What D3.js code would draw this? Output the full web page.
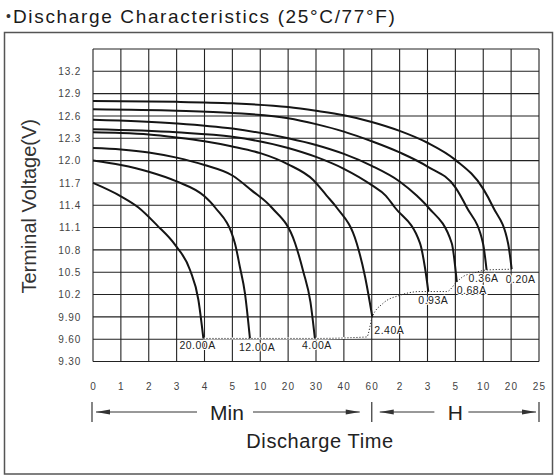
<!DOCTYPE html>
<html>
<head>
<meta charset="utf-8">
<script src="https://cdn.jsdelivr.net/npm/d3@7"></script>
<style>
  body { margin: 0; background: #fff; }
  svg { display: block; font-family: "Liberation Sans", Arial, sans-serif; }
</style>
</head>
<body>
<div id="chart"></div>
<script>
// Discharge characteristics chart (25C / 77F)

// x axis : discharge time in minutes, ticks sit on an evenly spaced grid
var timeTicks = [0, 1, 2, 3, 4, 5, 10, 20, 30, 40, 60, 120, 180, 300, 600, 1200, 1500];
var timeTickLabels = ["0", "1", "2", "3", "4", "5", "10", "20", "30", "40", "60", "2", "3", "5", "10", "20", "25"];

// y axis : terminal voltage
var voltTicks = [13.5, 13.2, 12.9, 12.6, 12.3, 12.0, 11.7, 11.4, 11.1, 10.8, 10.5, 10.2, 9.9, 9.6, 9.3];

// discharge curves (time in minutes, voltage)
var t_20A = [0, 1, 1.63, 2.3, 2.94, 3.48, 3.78, 3.96];
var v_20A = [11.70, 11.52, 11.37, 11.13, 10.87, 10.53, 10.13, 9.61];

var t_12A = [0, 1, 2, 3, 4, 4.38, 5.45, 6.35, 7.25, 8.15];
var v_12A = [12.00, 11.94, 11.85, 11.72, 11.52, 11.37, 10.89, 10.57, 10.22, 9.61];

var t_4A = [0, 1, 2, 3, 4, 5, 8.45, 14.1, 22.5, 25.5, 28, 29.6];
var v_4A = [12.17, 12.15, 12.11, 12.04, 11.94, 11.80, 11.60, 11.37, 10.89, 10.50, 10.10, 9.61];

var t_2_4A = [0, 1, 2, 3, 4, 5, 10, 20, 29, 33.8, 37.4, 49.2, 55.2, 61.2];
var v_2_4A = [12.38, 12.37, 12.35, 12.31, 12.26, 12.19, 12.10, 11.95, 11.74, 11.53, 11.37, 10.89, 10.44, 9.90];

var t_0_93A = [0, 3, 5, 20, 30, 40, 60, 90, 109.8, 163.8, 174.6, 183.6];
var v_0_93A = [12.42, 12.38, 12.32, 12.17, 12.05, 11.89, 11.67, 11.53, 11.37, 10.89, 10.56, 10.24];

var t_0_68A = [0, 3, 5, 20, 30, 40, 60, 120, 156.6, 183.6, 284.4, 315];
var v_0_68A = [12.55, 12.50, 12.43, 12.30, 12.21, 12.09, 11.93, 11.72, 11.53, 11.37, 10.89, 10.37];

var t_0_36A = [0, 3, 5, 20, 30, 40, 60, 120, 180, 300, 423, 597, 672];
var v_0_36A = [12.69, 12.67, 12.64, 12.57, 12.49, 12.39, 12.26, 12.11, 11.92, 11.64, 11.37, 10.89, 10.53];

var t_0_20A = [0, 3, 5, 20, 30, 40, 60, 120, 180, 300, 600, 816, 1134, 1206];
var v_0_20A = [12.80, 12.79, 12.77, 12.72, 12.67, 12.61, 12.52, 12.40, 12.24, 12.01, 11.62, 11.37, 10.89, 10.54];

// final discharge voltage (dotted line through the curve ends)
var t_end = [3.96, 8.15, 29.6, 56.4, 61.2, 84, 120.6, 163.8, 183.6, 262.8, 315, 381, 500, 672, 1206];
var v_end = [9.61, 9.61, 9.61, 9.63, 9.90, 10.08, 10.19, 10.24, 10.24, 10.24, 10.37, 10.44, 10.49, 10.53, 10.54];

var currents = ["20.00A", "12.00A", "4.00A", "2.40A", "0.93A", "0.68A", "0.36A", "0.20A"];
var curveTimes = [t_20A, t_12A, t_4A, t_2_4A, t_0_93A, t_0_68A, t_0_36A, t_0_20A];
var curveVolts = [v_20A, v_12A, v_4A, v_2_4A, v_0_93A, v_0_68A, v_0_36A, v_0_20A];

// label offsets from the end of each curve
var labelDx = [-24, -11, -13, 2, -10, 0, -18, -6];
var labelDy = [11, 12.5, 11, 17, 12, 12, 12, 14];

var width = 558;
var height = 476;

var grid = { left: 93, right: 539, top: 49, bottom: 361.5 };
var colW = (grid.right - grid.left) / (timeTicks.length - 1);

var svg = d3.select("#chart")
  .append("svg")
  .attr("width", width)
  .attr("height", height);

// piecewise scale: each tick gets its own grid column
var x = d3.scaleLinear()
  .domain(timeTicks)
  .range(timeTicks.map(function(d, i) { return grid.left + i * colW; }));

var y = d3.scaleLinear()
  .domain([9.3, 13.5])
  .range([grid.bottom, grid.top]);

// outer frame
svg.append("rect")
  .attr("x", 4.5)
  .attr("y", 32.5)
  .attr("width", 548)
  .attr("height", 441.5)
  .attr("fill", "none")
  .attr("stroke", "#555")
  .attr("stroke-width", 1.5);

// title
svg.append("text")
  .attr("x", 6)
  .attr("y", 21)
  .attr("font-size", 14)
  .attr("fill", "#333")
  .text("•");

svg.append("text")
  .attr("x", 13)
  .attr("y", 22.7)
  .attr("font-size", 19)
  .attr("letter-spacing", 1.65)
  .attr("fill", "#1a1a1a")
  .text("Discharge Characteristics (25°C/77°F)");

// grid
svg.append("g")
  .selectAll("line")
  .data(timeTicks)
  .enter()
  .append("line")
  .attr("x1", function(d) { return x(d); })
  .attr("x2", function(d) { return x(d); })
  .attr("y1", grid.top)
  .attr("y2", grid.bottom)
  .attr("stroke", "#222")
  .attr("stroke-width", 1.1);

svg.append("g")
  .selectAll("line")
  .data(voltTicks)
  .enter()
  .append("line")
  .attr("x1", grid.left)
  .attr("x2", grid.right)
  .attr("y1", function(d) { return y(d); })
  .attr("y2", function(d) { return y(d); })
  .attr("stroke", "#222")
  .attr("stroke-width", 1.1);

// y axis labels
var yAxis = d3.axisLeft(y)
  .tickValues(voltTicks.slice(1))
  .tickSize(0)
  .tickPadding(12)
  .tickFormat(function(d) { return d >= 10 ? d.toFixed(1) : d.toFixed(2); });

svg.append("g")
  .attr("transform", "translate(" + grid.left + ",0)")
  .call(yAxis)
  .call(function(g) { g.select(".domain").remove(); })
  .selectAll("text")
  .attr("font-family", "Liberation Sans, Arial, sans-serif")
  .attr("font-size", 10)
  .attr("letter-spacing", 0.8)
  .attr("fill", "#444");

// x axis labels
var xAxis = d3.axisBottom(x)
  .tickValues(timeTicks)
  .tickSize(0)
  .tickPadding(21)
  .tickFormat(function(d, i) { return timeTickLabels[i]; });

svg.append("g")
  .attr("transform", "translate(0," + grid.bottom + ")")
  .call(xAxis)
  .call(function(g) { g.select(".domain").remove(); })
  .selectAll("text")
  .attr("font-family", "Liberation Sans, Arial, sans-serif")
  .attr("font-size", 10)
  .attr("letter-spacing", 1.2)
  .attr("fill", "#444");

// y axis title
svg.append("text")
  .attr("transform", "translate(36," + ((grid.top + grid.bottom) / 2 + 1) + ") rotate(-90)")
  .attr("text-anchor", "middle")
  .attr("font-size", 20)
  .attr("fill", "#333")
  .text("Terminal Voltage(V)");

var line = d3.line()
  .x(function(d) { return x(d[0]); })
  .y(function(d) { return y(d[1]); })
  .curve(d3.curveMonotoneX);

// end voltage line: white underlay breaks the grid, then dots
var endPts = t_end.map(function(d, i) { return [d, v_end[i]]; });

svg.append("path")
  .datum(endPts.slice(0, 4))
  .attr("d", line)
  .attr("fill", "none")
  .attr("stroke", "#fff")
  .attr("stroke-width", 2);

svg.append("path")
  .datum(endPts)
  .attr("d", line)
  .attr("fill", "none")
  .attr("stroke", "#333")
  .attr("stroke-width", 1)
  .attr("stroke-dasharray", "1.2,1.8");

// discharge curves
var series = currents.map(function(c, i) {
  return {
    name: c,
    pts: curveTimes[i].map(function(t, j) { return [t, curveVolts[i][j]]; })
  };
});

svg.append("g")
  .selectAll("path")
  .data(series)
  .enter()
  .append("path")
  .attr("d", function(d) { return line(d.pts); })
  .attr("fill", "none")
  .attr("stroke", "#151515")
  .attr("stroke-width", 2);

// current labels
svg.append("g")
  .selectAll("text")
  .data(series)
  .enter()
  .append("text")
  .attr("x", function(d, i) { return x(d.pts[d.pts.length - 1][0]) + labelDx[i]; })
  .attr("y", function(d, i) { return y(d.pts[d.pts.length - 1][1]) + labelDy[i]; })
  .attr("font-size", 10.5)
  .attr("letter-spacing", 0.5)
  .attr("fill", "#222")
  .attr("stroke", "#fff")
  .attr("stroke-width", 2)
  .attr("paint-order", "stroke")
  .text(function(d) { return d.name; });

// Min / H range arrows
var arrowY = 412;
var minCx = 227;
var hCx = (x(60) + x(1500)) / 2;

var arrows = [
  [x(0) + 3, minCx - 30],
  [minCx + 26, x(60) - 12],
  [x(60) + 8, hCx - 21],
  [hCx + 13, x(1500) - 3]
];
// which end carries the head: 0 = left, 1 = right
var heads = [0, 1, 0, 1];

var arrowG = svg.append("g");

arrowG.selectAll("line.shaft")
  .data(arrows)
  .enter()
  .append("line")
  .attr("class", "shaft")
  .attr("x1", function(d) { return d[0]; })
  .attr("x2", function(d) { return d[1]; })
  .attr("y1", arrowY)
  .attr("y2", arrowY)
  .attr("stroke", "#333")
  .attr("stroke-width", 1);

arrowG.selectAll("path.head")
  .data(arrows)
  .enter()
  .append("path")
  .attr("class", "head")
  .attr("d", function(d, i) {
    if (heads[i] == 0) {
      return "M" + d[0] + "," + arrowY + "L" + (d[0] + 14) + "," + (arrowY - 2.5) + "L" + (d[0] + 14) + "," + (arrowY + 2.5) + "Z";
    }
    return "M" + d[1] + "," + arrowY + "L" + (d[1] - 14) + "," + (arrowY - 2.5) + "L" + (d[1] - 14) + "," + (arrowY + 2.5) + "Z";
  })
  .attr("fill", "#333");

arrowG.selectAll("line.bar")
  .data([0, 60, 1500])
  .enter()
  .append("line")
  .attr("class", "bar")
  .attr("x1", function(d) { return x(d) + (d == 0 ? -1 : 0); })
  .attr("x2", function(d) { return x(d) + (d == 0 ? -1 : 0); })
  .attr("y1", arrowY - 10)
  .attr("y2", arrowY + 10)
  .attr("stroke", "#444")
  .attr("stroke-width", 1.3);

svg.append("text")
  .attr("x", minCx)
  .attr("y", 420)
  .attr("text-anchor", "middle")
  .attr("font-size", 21)
  .attr("fill", "#222")
  .text("Min");

svg.append("text")
  .attr("x", hCx)
  .attr("y", 420)
  .attr("text-anchor", "middle")
  .attr("font-size", 21)
  .attr("fill", "#222")
  .text("H");

svg.append("text")
  .attr("x", 320)
  .attr("y", 448)
  .attr("text-anchor", "middle")
  .attr("font-size", 20)
  .attr("letter-spacing", 0.6)
  .attr("fill", "#222")
  .text("Discharge Time");
</script>
</body>
</html>
